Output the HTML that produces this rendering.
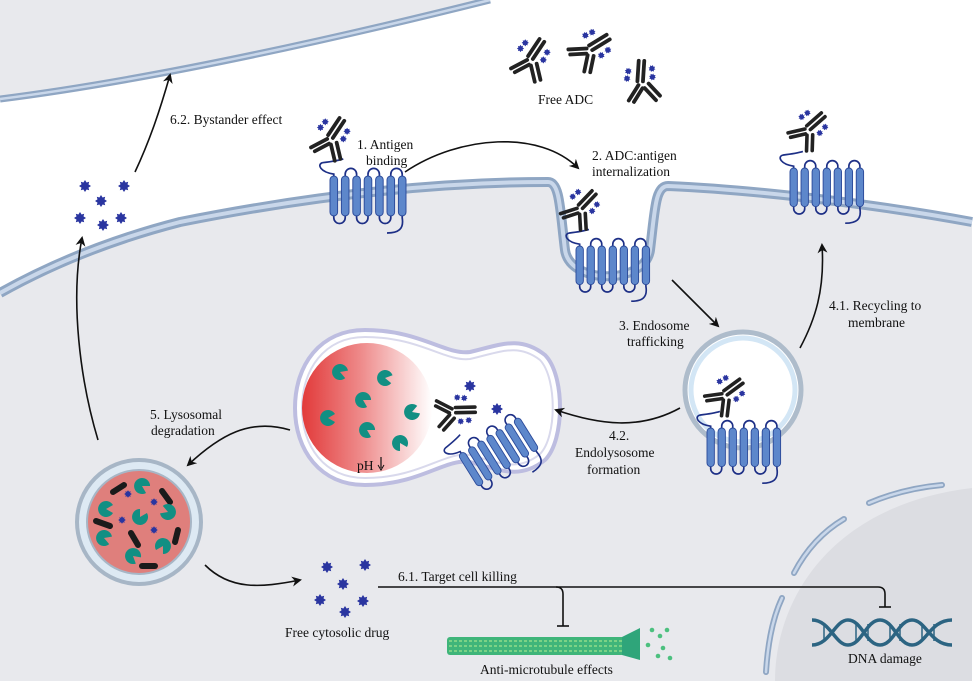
<!DOCTYPE html>
<html><head><meta charset="utf-8"><style>
html,body{margin:0;padding:0;background:#fff}
svg{display:block}
text{font-family:"Liberation Serif",serif;font-size:13.5px;fill:#111}
</style></head><body>
<svg width="975" height="685" viewBox="0 0 975 685" xmlns="http://www.w3.org/2000/svg">
<defs>
<marker id="ah" markerWidth="10" markerHeight="10" refX="8" refY="5" orient="auto" markerUnits="userSpaceOnUse">
<path d="M0,0 L10,5 L0,10 L3,5 Z" fill="#111"/></marker>
<g id="star"><path d="M0,-6 L1.6,-3.5 L4.2,-4.2 L3.5,-1.6 L6,0 L3.5,1.6 L4.2,4.2 L1.6,3.5 L0,6 L-1.6,3.5 L-4.2,4.2 L-3.5,1.6 L-6,0 L-3.5,-1.6 L-4.2,-4.2 L-1.6,-3.5 Z" fill="#2a35a0"/></g>
<g id="sstar"><path d="M0,-3.8 L1.1,-2.2 L2.7,-2.7 L2.2,-1.1 L3.8,0 L2.2,1.1 L2.7,2.7 L1.1,2.2 L0,3.8 L-1.1,2.2 L-2.7,2.7 L-2.2,1.1 L-3.8,0 L-2.2,-1.1 L-2.7,-2.7 L-1.1,-2.2 Z" fill="#2a35a0"/></g>
<g id="ab" stroke="#222" stroke-width="4" stroke-linecap="round" fill="none">
<line x1="-2" y1="-2" x2="10" y2="-20"/><line x1="3" y1="1" x2="15" y2="-17"/>
<line x1="-3" y1="2" x2="-20" y2="11"/><line x1="-1" y1="7" x2="-16" y2="15"/>
<line x1="1" y1="8" x2="5" y2="25"/><line x1="7" y1="6" x2="11" y2="23"/>
<use href="#sstar" x="-5" y="-16" stroke="none"/><use href="#sstar" x="-10" y="-10" stroke="none"/>
<use href="#sstar" x="18" y="-6" stroke="none"/><use href="#sstar" x="14" y="2" stroke="none"/>
</g>
<g id="rec">
<path d="M-8,-14 C-14,-12 -10,-4 4,-2 L4,44 A6,6 0 0 0 16,44 L16,-2 A6,6 0 0 1 28,-2 L28,44 A6,6 0 0 0 40,44 L40,-2 A6,6 0 0 1 52,-2 L52,44 A6,6 0 0 0 64,44 L64,-2 A6,6 0 0 1 76,-2 L76,44 C78,56 72,60 60,60 M-8,-14 C0,-15 8,-16 14,-18" fill="none" stroke="#1d2f86" stroke-width="1.8"/>
<g fill="#5d87cb" stroke="#2b4a9a" stroke-width="1">
<rect x="0" y="0" width="8" height="42" rx="4"/><rect x="12" y="0" width="8" height="42" rx="4"/><rect x="24" y="0" width="8" height="42" rx="4"/><rect x="36" y="0" width="8" height="42" rx="4"/><rect x="48" y="0" width="8" height="42" rx="4"/><rect x="60" y="0" width="8" height="42" rx="4"/><rect x="72" y="0" width="8" height="42" rx="4"/></g>
</g>
<g id="pac"><path d="M0,0 L7,-4 A8,8 0 1 0 7,4 Z" fill="#128f83"/></g>
<linearGradient id="red" x1="0" y1="0" x2="1" y2="0"><stop offset="0" stop-color="#e23a3a"/><stop offset="0.45" stop-color="#ee8a8a"/><stop offset="1" stop-color="#ffffff"/></linearGradient>
</defs>

<rect x="0" y="0" width="972" height="681" fill="#e8e9ed"/>
<path d="M0,99 C150,80 330,40 490,0 L972,0 L972,222 C880,205 760,190 668,186 C655,186 655,210 650,250 C645,285 570,285 565,250 C560,210 560,182 548,182 C450,182 330,192 180,222 C110,240 50,265 0,293 Z" fill="#ffffff"/>
<path d="M0,99 C150,80 330,40 490,0" fill="none" stroke="#8fa6c3" stroke-width="7"/>
<path d="M0,99 C150,80 330,40 490,0" fill="none" stroke="#c9d7ea" stroke-width="2.5"/>
<path d="M0,293 C50,265 110,240 180,222 C330,192 450,182 548,182 C560,182 560,210 565,250 C570,285 645,285 650,250 C655,210 655,186 668,186 C760,190 880,205 972,222" fill="none" stroke="#8fa6c3" stroke-width="10"/>
<path d="M0,293 C50,265 110,240 180,222 C330,192 450,182 548,182 C560,182 560,210 565,250 C570,285 645,285 650,250 C655,210 655,186 668,186 C760,190 880,205 972,222" fill="none" stroke="#c9d7ea" stroke-width="4"/>

<!-- nucleus -->
<path d="M775,681 C775,600 830,505 972,488 L972,681 Z" fill="#dcdde2"/>
<g stroke="#8fa6c3" stroke-width="6" stroke-linecap="round" fill="none">
<path d="M766,672 C768,640 774,615 782,598"/>
<path d="M794,573 C806,550 822,532 844,519"/>
<path d="M869,503 C895,492 920,487 942,485"/>
</g>
<g stroke="#c9d7ea" stroke-width="2.5" stroke-linecap="round" fill="none">
<path d="M766,672 C768,640 774,615 782,598"/>
<path d="M794,573 C806,550 822,532 844,519"/>
<path d="M869,503 C895,492 920,487 942,485"/>
</g>

<!-- endolysosome -->
<path d="M365,330 C420,330 445,355 470,352 C500,345 520,335 545,355 C565,375 565,440 545,460 C520,480 500,470 470,462 C445,458 420,485 365,485 C320,485 295,450 295,408 C295,365 320,330 365,330 Z" fill="#fff" stroke="#bdbde0" stroke-width="4"/>
<path d="M365,337 C420,337 445,362 470,359 C500,352 518,343 540,360 C557,378 557,437 540,454 C518,472 500,463 470,455 C445,451 420,478 365,478 C324,478 302,446 302,408 C302,370 324,337 365,337 Z" fill="none" stroke="#d9d9ec" stroke-width="2"/>
<circle cx="367" cy="408" r="65" fill="url(#red)"/>
<use href="#pac" transform="translate(340,372) rotate(20)"/>
<use href="#pac" transform="translate(385,378) rotate(10)"/>
<use href="#pac" transform="translate(363,400) rotate(30)"/>
<use href="#pac" transform="translate(328,418) rotate(0)"/>
<use href="#pac" transform="translate(412,412) rotate(-20)"/>
<use href="#pac" transform="translate(367,430) rotate(30)"/>
<use href="#pac" transform="translate(400,443) rotate(60)"/>
<text x="357" y="470">pH</text>
<line x1="381" y1="457" x2="381" y2="468" stroke="#111" stroke-width="1.2"/>
<path d="M378,465 L381,470 L384,465" fill="none" stroke="#111" stroke-width="1"/>
<use href="#star" x="470" y="386"/>
<use href="#star" x="497" y="409"/>
<use href="#ab" transform="translate(455,410) rotate(55) scale(0.9)"/>
<use href="#rec" transform="translate(458,455) rotate(-32) scale(0.9)"/>

<!-- endosome -->
<circle cx="743" cy="390" r="58" fill="#fff" stroke="#aebccb" stroke-width="5"/>
<circle cx="743" cy="390" r="52" fill="none" stroke="#d3e6f5" stroke-width="5"/>
<use href="#ab" transform="translate(725,393) rotate(20) scale(0.9)"/>
<use href="#rec" transform="translate(707,428) scale(0.92)"/>

<!-- lysosome -->
<circle cx="139" cy="522" r="62" fill="#dde9f3" stroke="#a7b6c6" stroke-width="4"/>
<circle cx="139" cy="522" r="52" fill="#df7f7c" stroke="#a7b6c6" stroke-width="2"/>
<g stroke="#1b1b1b" stroke-width="6" stroke-linecap="round">
<line x1="113" y1="492" x2="124" y2="485"/><line x1="162" y1="491" x2="170" y2="502"/>
<line x1="96" y1="521" x2="110" y2="526"/><line x1="131" y1="533" x2="138" y2="545"/>
<line x1="178" y1="530" x2="175" y2="542"/><line x1="142" y1="566" x2="155" y2="566"/>
</g>
<use href="#pac" transform="translate(142,486) rotate(30)"/>
<use href="#pac" transform="translate(106,509) rotate(0)"/>
<use href="#pac" transform="translate(140,517) rotate(-60)"/>
<use href="#pac" transform="translate(168,512) rotate(200)"/>
<use href="#pac" transform="translate(104,538) rotate(20)"/>
<use href="#pac" transform="translate(163,546) rotate(120)"/>
<use href="#pac" transform="translate(133,556) rotate(40)"/>
<use href="#sstar" x="128" y="494"/><use href="#sstar" x="154" y="502"/>
<use href="#sstar" x="122" y="520"/><use href="#sstar" x="154" y="530"/>

<use href="#rec" transform="translate(330,176) scale(0.95)"/>
<use href="#ab" transform="translate(330,137) scale(0.95)"/>
<use href="#rec" transform="translate(576,246) scale(0.92)"/>
<use href="#ab" transform="translate(580,207) rotate(10) scale(0.9)"/>
<use href="#rec" transform="translate(790,168) scale(0.92)"/>
<use href="#ab" transform="translate(808,128) rotate(15) scale(0.9)"/>

<use href="#ab" transform="translate(530,58) scale(0.95)"/>
<use href="#ab" transform="translate(590,48) rotate(25) scale(0.95)"/>
<use href="#ab" transform="translate(640,82) rotate(-30) scale(0.95)"/>

<use href="#star" x="85" y="186"/><use href="#star" x="124" y="186"/>
<use href="#star" x="101" y="201"/><use href="#star" x="80" y="218"/>
<use href="#star" x="121" y="218"/><use href="#star" x="103" y="225"/>

<use href="#star" x="327" y="567"/><use href="#star" x="365" y="565"/>
<use href="#star" x="343" y="584"/><use href="#star" x="320" y="600"/>
<use href="#star" x="363" y="601"/><use href="#star" x="345" y="612"/>

<g fill="none" stroke="#111" stroke-width="1.6">
<path d="M135,172 C150,140 160,110 170,75" marker-end="url(#ah)"/>
<path d="M98,440 C80,380 70,300 82,238" marker-end="url(#ah)"/>
<path d="M405,172 C460,135 540,130 578,168" marker-end="url(#ah)"/>
<path d="M672,280 L718,326" marker-end="url(#ah)"/>
<path d="M800,348 C815,320 825,290 822,245" marker-end="url(#ah)"/>
<path d="M680,408 C640,430 600,425 556,410" marker-end="url(#ah)"/>
<path d="M290,430 C250,418 220,435 188,465" marker-end="url(#ah)"/>
<path d="M205,565 C230,590 260,588 300,580" marker-end="url(#ah)"/>
</g>
<g fill="none" stroke="#111" stroke-width="1.6">
<path d="M378,587 L878,587 Q885,587 885,594 L885,607"/>
<path d="M556,587 Q563,587 563,594 L563,626"/>
<line x1="557" y1="626" x2="569" y2="626"/>
<line x1="879" y1="607" x2="891" y2="607"/>
</g>

<rect x="447" y="637" width="178" height="18" rx="3" fill="#3fb57a"/>
<g stroke="#8fdc8a" stroke-width="1.6" stroke-dasharray="3 2">
<line x1="449" y1="641" x2="625" y2="641"/><line x1="449" y1="646" x2="625" y2="646"/><line x1="449" y1="651" x2="625" y2="651"/></g>
<path d="M622,637 L640,628 L640,660 L622,655 Z" fill="#2fa57a"/>
<g fill="#4cc07f"><circle cx="652" cy="630" r="2.3"/><circle cx="660" cy="636" r="2.3"/><circle cx="663" cy="648" r="2.3"/><circle cx="658" cy="656" r="2.3"/><circle cx="670" cy="658" r="2.3"/><circle cx="648" cy="645" r="2.3"/><circle cx="667" cy="630" r="2.3"/></g>

<g fill="none" stroke="#2c6482" stroke-width="3.5">
<path d="M812,620 C830,620 835,645 848,645 C862,645 866,620 880,620 C894,620 898,645 912,645 C926,645 930,620 952,620"/>
<path d="M812,645 C830,645 835,620 848,620 C862,620 866,645 880,645 C894,645 898,620 912,620 C926,620 930,645 952,645"/>
</g>
<g stroke="#2c6482" stroke-width="1.5">
<line x1="824" y1="624" x2="824" y2="641"/><line x1="856" y1="624" x2="856" y2="641"/><line x1="868" y1="624" x2="868" y2="641"/><line x1="890" y1="624" x2="890" y2="641"/><line x1="900" y1="624" x2="900" y2="641"/><line x1="922" y1="624" x2="922" y2="641"/><line x1="934" y1="624" x2="934" y2="641"/></g>

<text x="170" y="124">6.2. Bystander effect</text>
<text x="357" y="149">1. Antigen</text>
<text x="366" y="165">binding</text>
<text x="538" y="104">Free ADC</text>
<text x="592" y="160">2. ADC:antigen</text>
<text x="592" y="176">internalization</text>
<text x="619" y="330">3. Endosome</text>
<text x="627" y="346">trafficking</text>
<text x="829" y="310">4.1. Recycling to</text>
<text x="848" y="327">membrane</text>
<text x="150" y="419">5. Lysosomal</text>
<text x="151" y="435">degradation</text>
<text x="609" y="440">4.2.</text>
<text x="575" y="457">Endolysosome</text>
<text x="587" y="474">formation</text>
<text x="398" y="581">6.1. Target cell killing</text>
<text x="285" y="637">Free cytosolic drug</text>
<text x="480" y="674">Anti-microtubule effects</text>
<text x="848" y="663">DNA damage</text>
</svg>
</body></html>
